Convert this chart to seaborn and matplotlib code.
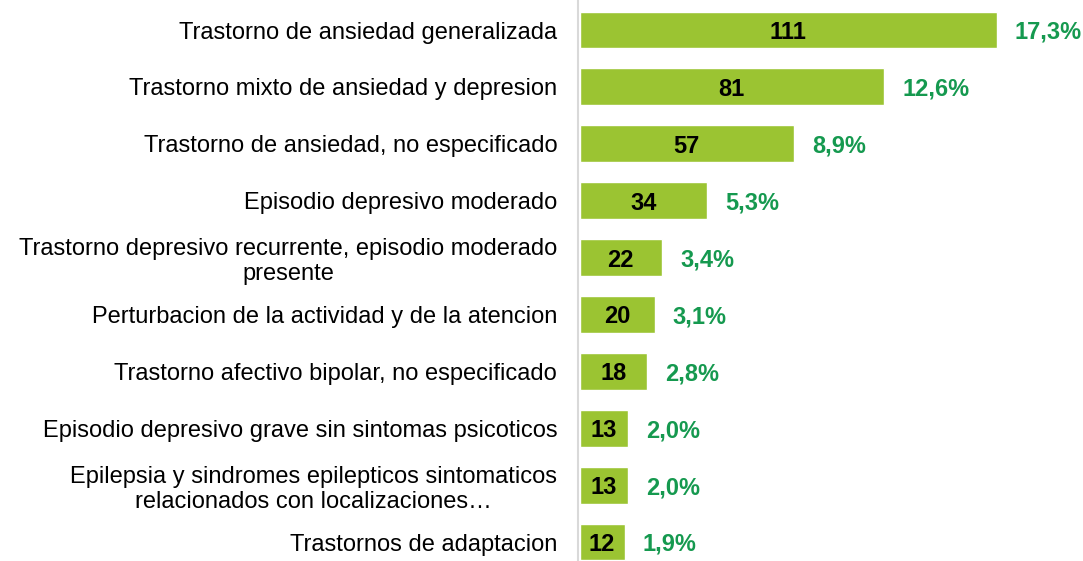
import matplotlib
matplotlib.use("Agg")
import matplotlib.pyplot as plt
import seaborn as sns
import pandas as pd

categories = [
    "Trastorno de ansiedad generalizada",
    "Trastorno mixto de ansiedad y depresion",
    "Trastorno de ansiedad, no especificado",
    "Episodio depresivo moderado",
    "Trastorno depresivo recurrente, episodio moderado\npresente",
    "Perturbacion de la actividad y de la atencion",
    "Trastorno afectivo bipolar, no especificado",
    "Episodio depresivo grave sin sintomas psicoticos",
    "Epilepsia y sindromes epilepticos sintomaticos\nrelacionados con localizaciones…",
    "Trastornos de adaptacion",
]
counts = [111, 81, 57, 34, 22, 20, 18, 13, 13, 12]
percents = [17.3, 12.6, 8.9, 5.3, 3.4, 3.1, 2.8, 2.0, 2.0, 1.9]

df = pd.DataFrame({"cat": categories, "n": counts, "pct": percents})

sns.set_theme(style="white")
plt.rcParams["font.family"] = ["Liberation Sans", "DejaVu Sans"]

W, H = 1083, 561
fig = plt.figure(figsize=(W / 100, H / 100), dpi=100)
ax_left = 578 / W
ax = fig.add_axes([ax_left, 0, 1 - ax_left, 1])

bar_color = "#9BC432"
pct_color = "#15994F"
fs = 17

sns.barplot(data=df, x="n", y="cat", orient="h", color=bar_color,
            width=0.65, ax=ax, saturation=1)

px_per_unit = (997 - 580) / 111
ax.set_xlim(-1.5 / px_per_unit, (W - 580) / px_per_unit)
spacing = (542 - 30) / 9
ax.set_ylim(9 + (H - 542) / spacing, -30 / spacing)

for i, (n, p) in enumerate(zip(counts, percents)):
    ax.text(n / 2, i, f"{n}", ha="center", va="center_baseline", fontsize=fs,
            fontweight="bold", color="black")
    ax.text(n + 18 / px_per_unit, i, f"{p:.1f}%".replace(".", ","),
            ha="left", va="center_baseline", fontsize=fs, fontweight="bold",
            color=pct_color)

ax.set_xlabel("")
ax.set_ylabel("")
ax.set_xticks([])
ax.tick_params(axis="y", length=0, pad=15, labelsize=fs, labelcolor="black")
for lab in ax.get_yticklabels():
    lab.set_multialignment("center")

for s in ["top", "right", "bottom"]:
    ax.spines[s].set_visible(False)
ax.spines["left"].set_color("#D9D9D9")
ax.spines["left"].set_linewidth(1.5)

fig.savefig("out.png", dpi=100)
